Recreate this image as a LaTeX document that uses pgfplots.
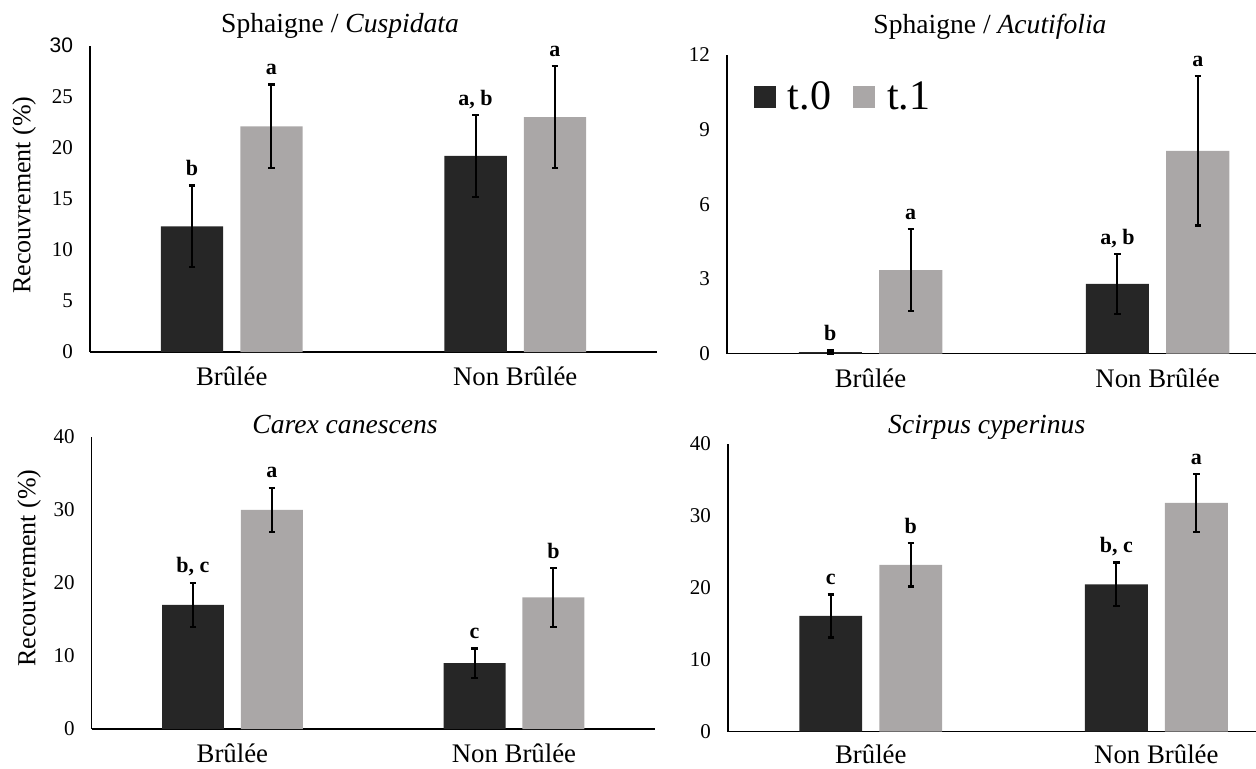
\documentclass[border=0pt]{standalone}
\usepackage{pgfplots}
\pgfplotsset{compat=1.18}
\usepackage{fontspec}
\setmainfont{Liberation Serif}
\newfontfamily\sansfont{Liberation Sans}
\definecolor{dk}{RGB}{38,38,38}
\definecolor{lt}{RGB}{170,167,167}
\pgfplotsset{
  panel/.style={
    scale only axis,
    axis x line*=bottom, axis y line*=left,
    axis line style={black, line width=0.6pt, -},
    major tick length=0pt,
    xmin=-0.5, ymin=0,
    xtick={0,1}, xticklabels={Brûlée, Non Brûlée},
    x tick label style={font=\fontsize{13.4}{15}\selectfont, yshift=-4pt},
    y tick label style={font=\fontsize{10.5}{12}\selectfont, xshift=-5pt},
    /pgf/number format/assume math mode=true,
    title style={font=\fontsize{13.8}{15}\selectfont, anchor=base, yshift=-6pt},
    ylabel style={font=\fontsize{13}{15}\selectfont, anchor=center},
    clip=false,
  },
  bar0/.style={ybar, bar shift=0pt, bar width=0.22, fill=dk, draw=none,
    legend image code/.code={\fill[dk] (0pt,-5.5pt) rectangle (11pt,5.5pt);},
    error bars/y dir=both, error bars/y explicit,
    error bars/error bar style={line width=1pt, black},
    error bars/error mark options={rotate=90, mark size=1.6pt, line width=1.2pt, black}},
  bar1/.style={ybar, bar shift=0pt, bar width=0.22, fill=lt, draw=none,
    legend image code/.code={\fill[lt] (0pt,-5.5pt) rectangle (11pt,5.5pt);},
    error bars/y dir=both, error bars/y explicit,
    error bars/error bar style={line width=1pt, black},
    error bars/error mark options={rotate=90, mark size=1.6pt, line width=1.2pt, black}},
  lett/.style={forget plot, draw=none, mark=none, nodes near coords, point meta=explicit symbolic,
    nodes near coords style={anchor=base, yshift=5pt, text=black, font=\bfseries\fontsize{11}{13}\selectfont}},
}
\begin{document}
\begin{tikzpicture}
\path[use as bounding box] (0,0) rectangle (628pt,384pt);
% Panel 1
\begin{axis}[panel, at={(45pt,208pt)}, anchor=south west,
  width=283.5pt, height=153.15pt, xmax=1.5, ymax=30,
  ytick={0,5,10,15,20,25,30}, yticklabels={0,5,10,15,20,25,{\sansfont 30}},
  title={Sphaigne / \textit{Cuspidata}}, title style={at={(axis description cs:0.441,1.0415)}},
  ylabel={Recouvrement (\%)}, ylabel style={at={(axis description cs:-0.1164,0.5126)}}]
\addplot[bar0] coordinates {(-0.14,12.3) +- (0,4.0) (0.86,19.2) +- (0,4.0)};
\addplot[bar1] coordinates {(0.14,22.1) +- (0,4.1) (1.14,23.0) +- (0,5.0)};
\addplot[lett] coordinates {(-0.14,16.3) [b] (0.14,26.2) [a] (0.86,23.2) [{a, b}] (1.14,28.0) [a]};
\end{axis}
% Panel 2
\begin{axis}[panel, at={(363.5pt,207.25pt)}, anchor=south west,
  width=264.5pt, height=149.25pt, xmax=1.343, ymax=12,
  ytick={0,3,6,9,12},
  title={Sphaigne / \textit{Acutifolia}}, title style={at={(axis description cs:0.497,1.0737)}},
  legend style={at={(axis description cs:0.05,0.859)}, anchor=west, draw=none, fill=none,
    font=\fontsize{21}{24}\selectfont, legend columns=-1, inner sep=0pt,
    /tikz/every odd column/.append style={column sep=4pt},
    /tikz/every even column/.append style={column sep=9pt}},
  legend cell align=left]
\addplot[bar0] coordinates {(-0.14,0.06) +- (0,0.06) (0.86,2.8) +- (0,1.2)};
\addlegendentry{t.0}
\addplot[bar1] coordinates {(0.14,3.35) +- (0,1.65) (1.14,8.15) +- (0,3.0)};
\addlegendentry{t.1}
\addplot[lett] coordinates {(-0.14,0.12) [b] (0.14,5.0) [a] (0.86,4.0) [{a, b}] (1.14,11.15) [a]};
\end{axis}
% Panel 3
\begin{axis}[panel, at={(45.8pt,19.5pt)}, anchor=south west,
  width=281.6pt, height=146.15pt, xmax=1.5, ymax=40,
  ytick={0,10,20,30,40},
  title={\textit{Carex canescens}}, title style={at={(axis description cs:0.45,1.0127)}},
  ylabel={Recouvrement (\%)}, ylabel style={at={(axis description cs:-0.111,0.551)}}]
\addplot[bar0] coordinates {(-0.14,17.0) +- (0,3.0) (0.86,9.0) +- (0,2.0)};
\addplot[bar1] coordinates {(0.14,30.0) +- (0,3.0) (1.14,18.0) +- (0,4.0)};
\addplot[lett] coordinates {(-0.14,20.0) [{b, c}] (0.14,33.0) [a] (0.86,11.0) [c] (1.14,22.0) [b]};
\end{axis}
% Panel 4
\begin{axis}[panel, at={(364pt,18.15pt)}, anchor=south west,
  width=264pt, height=143.85pt, xmax=1.349, ymax=40,
  ytick={0,10,20,30,40},
  x tick label style={yshift=1pt},
  title={\textit{Scirpus cyperinus}}, title style={at={(axis description cs:0.49,1.038)}}]
\addplot[bar0] coordinates {(-0.14,16.1) +- (0,3.0) (0.86,20.5) +- (0,3.0)};
\addplot[bar1] coordinates {(0.14,23.2) +- (0,3.0) (1.14,31.8) +- (0,4.0)};
\addplot[lett] coordinates {(-0.14,19.1) [c] (0.14,26.2) [b] (0.86,23.5) [{b, c}] (1.14,35.8) [a]};
\end{axis}
\end{tikzpicture}
\end{document}
